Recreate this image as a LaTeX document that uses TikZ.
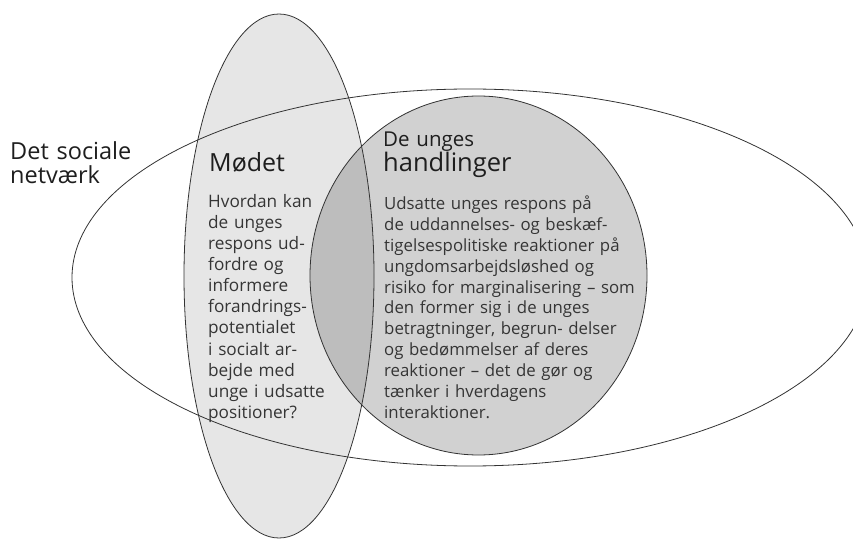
\documentclass[tikz,border=0pt]{standalone}
\usepackage{fontspec}
\setmainfont{Open Sans}
\definecolor{modetgraa}{HTML}{E6E6E6}
\definecolor{handlgraa}{HTML}{D1D1D1}
\definecolor{overlapgraa}{HTML}{BDBDBD}
\definecolor{streg}{HTML}{333333}
\definecolor{skrift}{HTML}{1E1E1E}

\tikzset{
  kant/.style={draw=streg, line width=0.8bp},
  overskrift/.style={anchor=base west, inner sep=0pt, text width=300bp, align=left, text=skrift,
    font=\fontsize{24.5bp}{23.3bp}\selectfont},
  broedtekst/.style={anchor=base west, inner sep=0pt, text width=300bp, align=left, text=skrift!90,
    font=\fontsize{17.2bp}{21bp}\selectfont}
}

\begin{document}
\begin{tikzpicture}[x=1bp,y=-1bp]
  \useasboundingbox (0,0) rectangle (853,539);
  \clip (0,0) rectangle (853,539);

  % fyld
  \fill[modetgraa] (279,276) ellipse [x radius=95, y radius=262];
  \fill[handlgraa] (478.5,275.5) ellipse [x radius=168.5, y radius=179.5];
  \begin{scope}
    \clip (279,276) ellipse [x radius=95, y radius=262];
    \fill[overlapgraa] (478.5,275.5) ellipse [x radius=168.5, y radius=179.5];
  \end{scope}

  % kanter
  \draw[kant] (470,277.5) ellipse [x radius=398, y radius=188.5];
  \draw[kant] (279,276) ellipse [x radius=95, y radius=262];
  \draw[kant] (478.5,275.5) ellipse [x radius=168.5, y radius=179.5];

  % tekster
  \node[overskrift, font=\fontsize{23.5bp}{23.3bp}\selectfont] (netvaerk) at (10,160) {Det sociale\\netværk};
  \node[overskrift, font=\fontsize{25bp}{25bp}\selectfont] (modet) at (209,171.7) {Mødet};
  \node[broedtekst, text width=160bp] (modettekst) at (208,208) {Hvordan kan\\de unges\\respons ud-\\fordre og\\informere\\forandrings-\\potentialet\\i socialt ar-\\bejde med\\unge i udsatte\\positioner?};
  \node[overskrift, font=\fontsize{20.5bp}{25bp}\selectfont] (handlinger) at (383,146.7)
    {De unges\\{\fontsize{25.5bp}{25bp}\selectfont handlinger}};
  \node[broedtekst, font=\fontsize{16.8bp}{20.8bp}\selectfont] (handlingertekst) at (384,210)
    {Udsatte unges respons på\\de uddannelses- og beskæf-\\tigelsespolitiske reaktioner på\\ungdomsarbejdsløshed og\\risiko for marginalisering – som\\den former sig i de unges\\betragtninger, begrun- delser\\og bedømmelser af deres\\reaktioner – det de gør og\\tænker i hverdagens\\interaktioner.};
\end{tikzpicture}
\end{document}
